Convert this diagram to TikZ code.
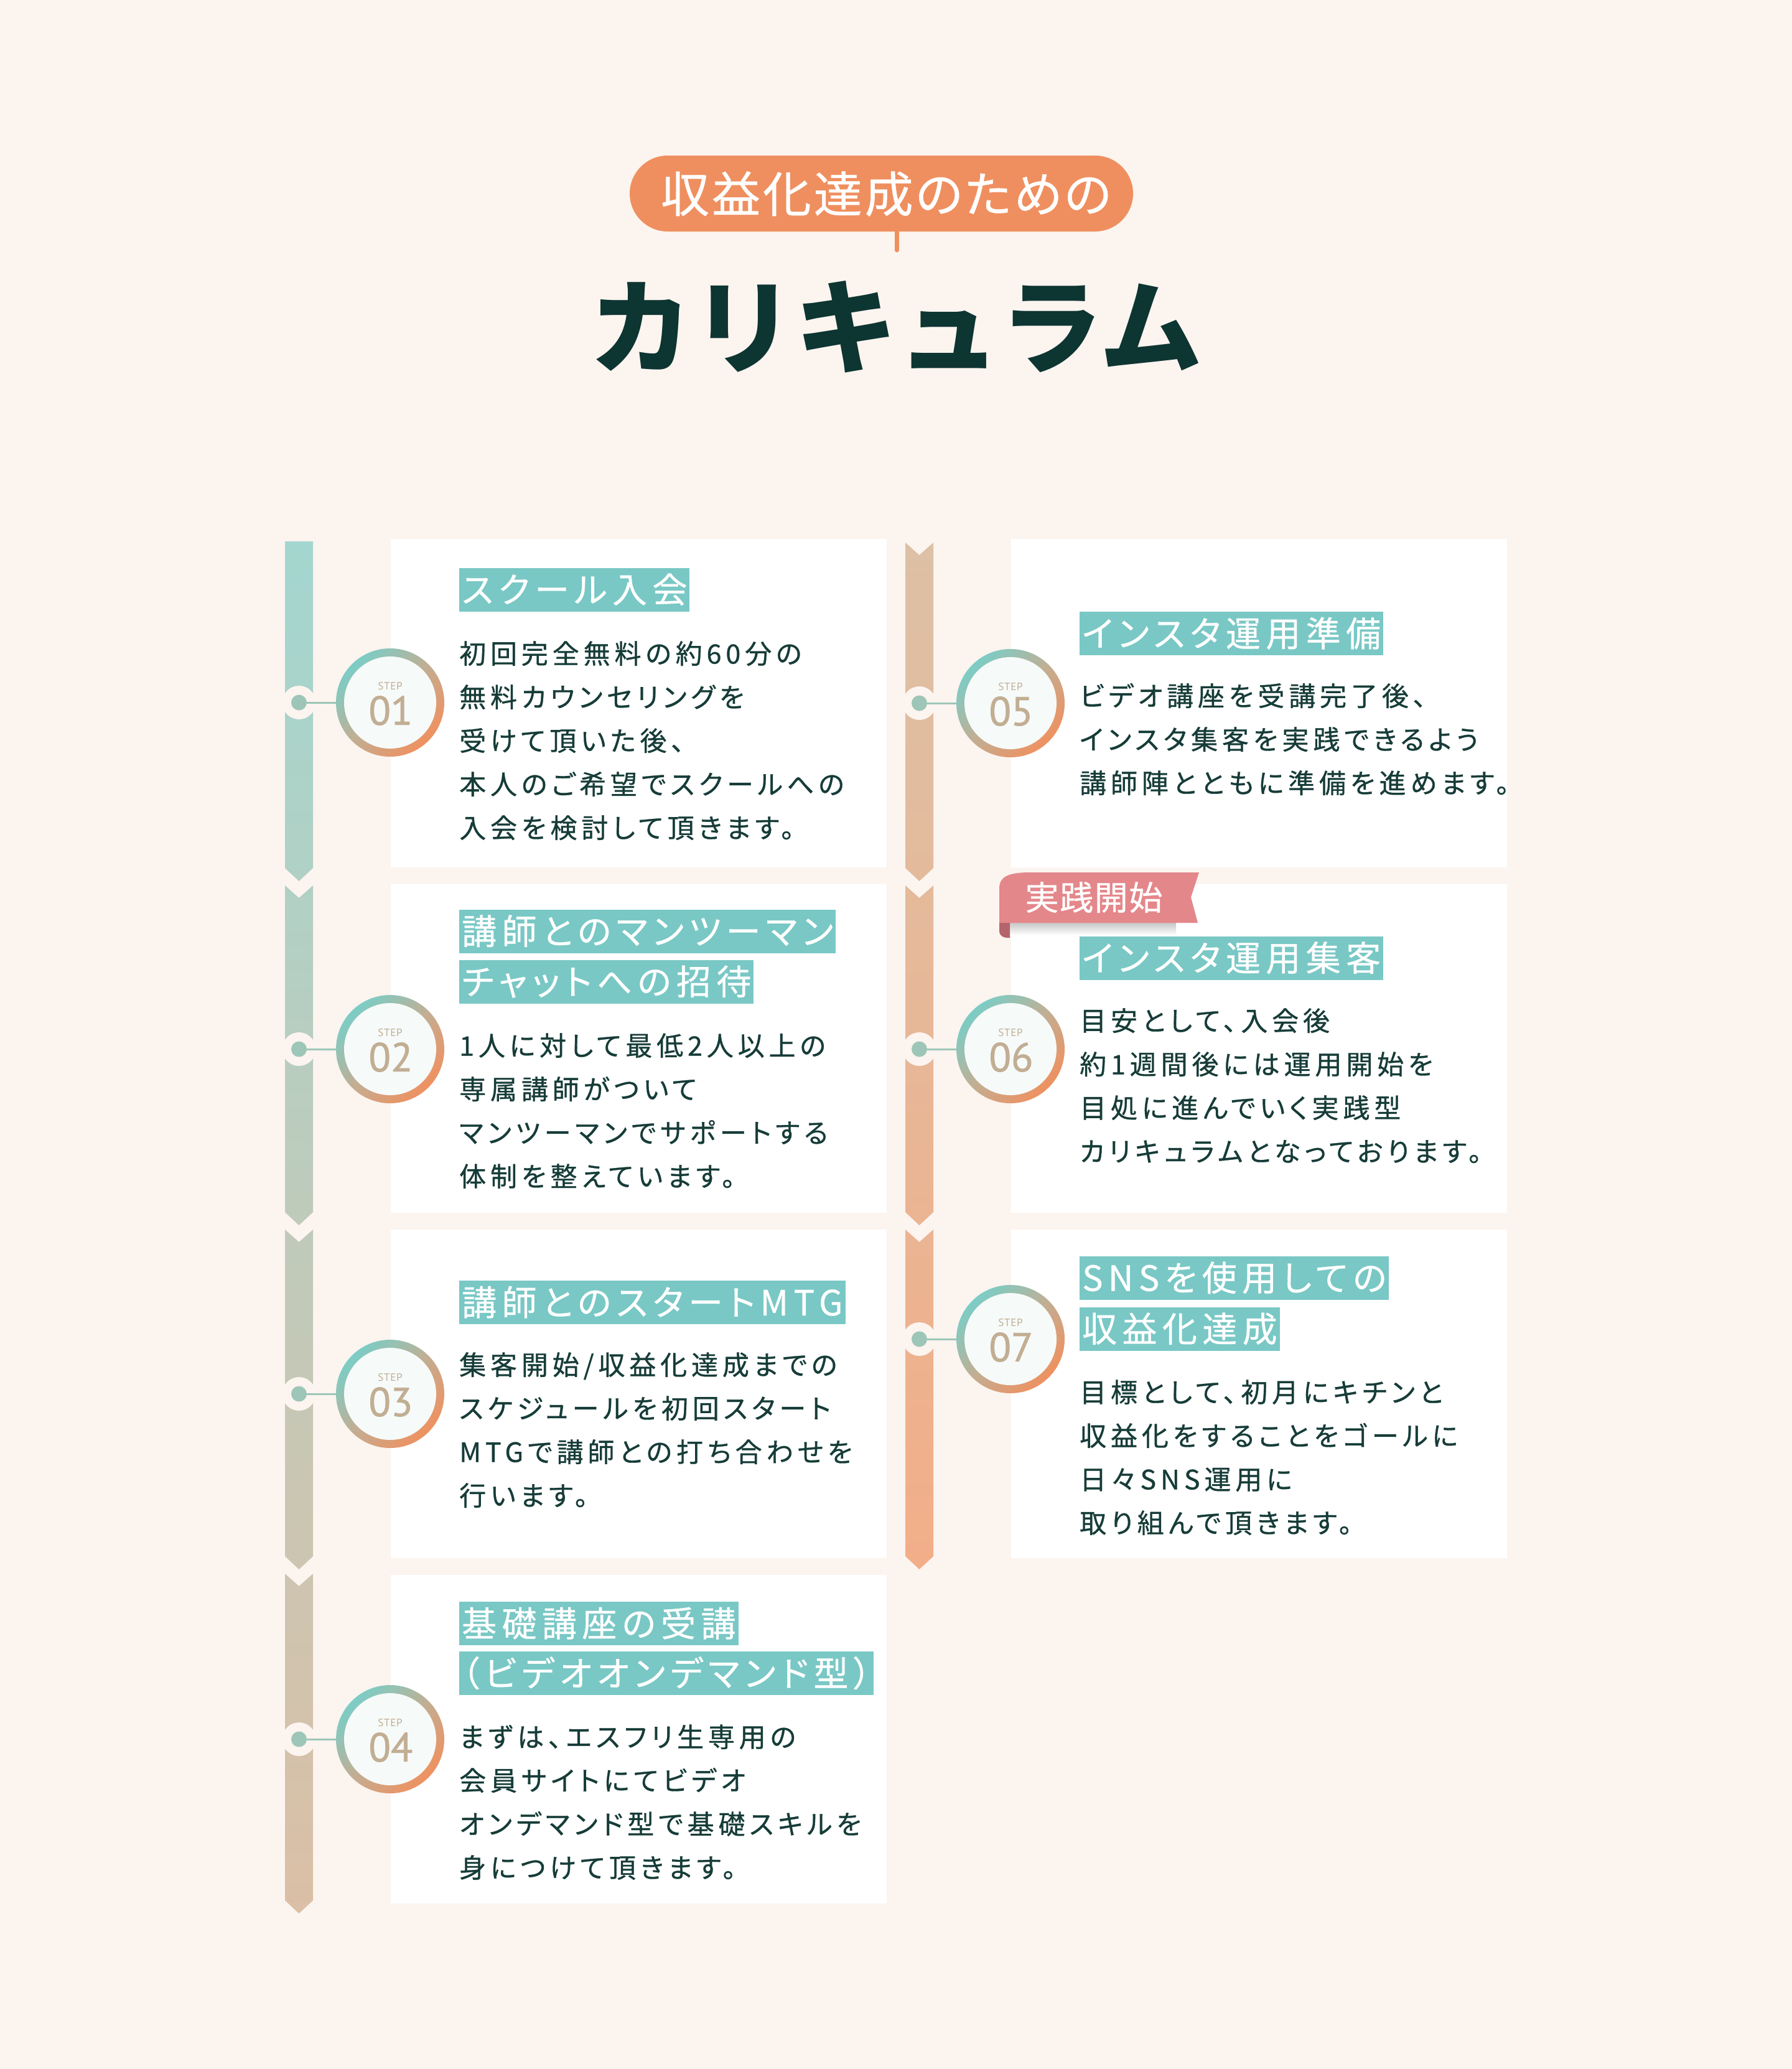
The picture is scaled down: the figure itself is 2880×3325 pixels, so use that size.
\documentclass[tikz,border=0pt]{standalone}
\usepackage{fontspec}
\usetikzlibrary{fadings,calc}
\newfontfamily\jpbody[RawFeature=+palt,LetterSpace=16,FakeBold=0.7]{Noto Sans CJK JP}
\newfontfamily\jphead[RawFeature=+palt,LetterSpace=15,FakeBold=0.6]{Noto Sans CJK JP}
\newfontfamily\jppill[RawFeature=+palt,LetterSpace=5,FakeBold=0.6]{Noto Sans CJK JP}
\newfontfamily\jptitle{Noto Sans CJK JP}
\newfontfamily\jprib[LetterSpace=3,FakeBold=0.5]{Noto Sans CJK JP}
\newfontfamily\numfam[FakeBold=1.2]{PT Sans}
\newfontfamily\stepfam[LetterSpace=4]{PT Sans}
\newcommand\bodyfont{\jpbody\fontsize{43}{50}\selectfont}
\newcommand\headfont{\jphead\fontsize{56}{60}\selectfont}
\newcommand\pillfont{\jppill\fontsize{78}{80}\selectfont}
\newcommand\titlefont{\jptitle\bfseries\fontsize{165}{170}\selectfont}
\newcommand\ribfont{\jprib\fontsize{54}{56}\selectfont}
\newcommand\numfont{\numfam\fontsize{65}{65}\selectfont}
\newcommand\stepfont{\stepfam\fontsize{17}{17}\selectfont}
\definecolor{bg}{HTML}{FCF4EF}
\definecolor{headc}{HTML}{79C8C5}
\definecolor{bodyc}{HTML}{163C38}
\definecolor{titlec}{HTML}{0D3532}
\definecolor{pillc}{HTML}{EF8F5F}
\definecolor{dotc}{HTML}{9DC6B8}
\definecolor{ringt}{HTML}{7BCDC6}
\definecolor{ringm}{HTML}{C2AE93}
\definecolor{ringb}{HTML}{EF9160}
\definecolor{innerc}{HTML}{F6FAF9}
\definecolor{lbartop}{HTML}{A3D6CF}
\definecolor{lbarbot}{HTML}{DBBFA6}
\definecolor{rbartop}{HTML}{DDC0A5}
\definecolor{rbarbot}{HTML}{F2AE89}
\definecolor{ribc}{HTML}{E4878B}
\definecolor{ribd}{HTML}{B4656B}
\newcommand\mkfade[2]{\pgfdeclarefading{#1}{\pgfpicture
  \pgfpathrectangle{\pgfpoint{-60pt}{-45pt}}{\pgfpoint{120pt}{90pt}}\pgfsetfillcolor{black}\pgfusepath{fill}
  \pgftext{\color{white}#2}\endpgfpicture}}
\mkfade{fstep}{\stepfont STEP}
\mkfade{fn01}{\numfont 01}
\mkfade{fn02}{\numfont 02}
\mkfade{fn03}{\numfont 03}
\mkfade{fn04}{\numfont 04}
\mkfade{fn05}{\numfont 05}
\mkfade{fn06}{\numfont 06}
\mkfade{fn07}{\numfont 07}
\newcommand\bodylines[4]{\foreach \t [count=\i] in {#4} {\node[bd] (#1-\i) at (#2,{#3+70*(\i-1)}) {\t};}}
\newcommand\stepc[4]{%
  \fill[bg] (#4,#3) circle[radius=27pt];
  \node[dotnode] (d#1) at (#4,#3) {};
  \node[ringnode] (s#1) at (#2,#3) {};
  \draw[conn] (d#1) -- (s#1);
  \shade[top color=ringt, bottom color=ringb, middle color=ringm, shading angle=45] (s#1.center) circle[radius=87pt];
  \fill[innerc] (s#1.center) circle[radius=74pt];
  \node[steplbl] (st#1) at ($(s#1.center)+(0,-26)$) {STEP};
  \shade[path fading=fstep, fit fading=false, left color=ringt, right color=ringb] ($(st#1.center)+(-24,-10)$) rectangle ($(st#1.center)+(24,10)$);
  \node[numlbl] (n#1) at ($(s#1.center)+(1,13)$) {#1};
  \shade[path fading=fn#1, fit fading=false, top color=ringt, bottom color=ringb, middle color=ringm, shading angle=45] ($(n#1.center)+(-36,-27)$) rectangle ($(n#1.center)+(36,27)$);
}
\begin{document}
\begin{tikzpicture}[x=1pt,y=-1pt,
  hd/.style={fill=headc,text=white,font=\headfont,anchor=west,inner xsep=4pt,inner ysep=7pt,text height=49pt,text depth=7pt},
  bd/.style={text=bodyc,font=\bodyfont,anchor=west,inner sep=0pt,text height=38pt,text depth=5pt},
  dotnode/.style={circle,fill=dotc,minimum size=25pt,inner sep=0pt},
  ringnode/.style={circle,minimum size=174pt,inner sep=0pt},
  conn/.style={draw=dotc,line width=3pt},
  steplbl/.style={font=\stepfont,text=ringm,inner sep=0pt},
  numlbl/.style={font=\numfont,text=ringm,inner sep=0pt},
  ttl/.style={font=\titlefont,inner sep=0pt,text height=145pt,text depth=20pt},
  card/.style={fill=white}]
\useasboundingbox (0,0) rectangle (2880,3325);
\fill[bg] (0,0) rectangle (2880,3325);
% title
\node[fill=pillc,rounded corners=61pt,minimum width=809pt,minimum height=122pt,inner sep=0pt] (pill) at (1416.5,311) {};
\coordinate (stemtop) at (1441,368);
\coordinate (stembot) at (1441,402);
\draw[pillc,line width=7pt,line cap=round] (stemtop) -- (stembot);
\node[font=\pillfont,text=white,inner sep=0pt,text height=69pt,text depth=9pt] (pilltext) at (1424,311) {収益化達成のための};
\node[ttl,text=titlec] (title) at (1440,525) {カリキュラム};
% cards
\foreach \k in {0,1,2,3} {\fill[card] (628,{866+555*\k}) rectangle (1425,{866+555*\k+528});}
\foreach \k in {0,1,2} {\fill[card] (1625,{866+555*\k}) rectangle (2422,{866+555*\k+528});}
% bars
\shade[top color=lbartop,bottom color=lbarbot]
  (458,870) -- (503,870) -- (503,1395) -- (480.5,1416) -- (458,1395) -- cycle
  (458,1423) -- (480.5,1443) -- (503,1423) -- (503,1948) -- (480.5,1969) -- (458,1948) -- cycle
  (458,1976) -- (480.5,1996) -- (503,1976) -- (503,2501) -- (480.5,2522) -- (458,2501) -- cycle
  (458,2529) -- (480.5,2549) -- (503,2529) -- (503,3054) -- (480.5,3075) -- (458,3054) -- cycle;
\shade[top color=rbartop,bottom color=rbarbot]
  (1455,872) -- (1477.5,892) -- (1500,872) -- (1500,1395) -- (1477.5,1416) -- (1455,1395) -- cycle
  (1455,1423) -- (1477.5,1443) -- (1500,1423) -- (1500,1948) -- (1477.5,1969) -- (1455,1948) -- cycle
  (1455,1976) -- (1477.5,1996) -- (1500,1976) -- (1500,2501) -- (1477.5,2522) -- (1455,2501) -- cycle;
% step circles
\stepc{01}{627}{1129}{480.5}
\stepc{02}{627}{1686}{480.5}
\stepc{03}{627}{2240}{480.5}
\stepc{04}{627}{2795}{480.5}
\stepc{05}{1624}{1130}{1477.5}
\stepc{06}{1624}{1686}{1477.5}
\stepc{07}{1624}{2152}{1477.5}
% card 1
\node[hd] (h1) at (738,947.5) {スクール入会};
\bodylines{b1}{738}{1050}{初回完全無料の約60分の,無料カウンセリングを,受けて頂いた後、,本人のご希望でスクールへの,入会を検討して頂きます。}
% card 2
\node[hd] (h2a) at (738,1496.5) {講師とのマンツーマン};
\node[hd] (h2b) at (738,1577.5) {チャットへの招待};
\bodylines{b2}{738}{1680}{1人に対して最低2人以上の,専属講師がついて,マンツーマンでサポートする,体制を整えています。}
% card 3
\node[hd] (h3) at (738,2093) {講師とのスタートMTG};
\bodylines{b3}{738}{2193}{集客開始/収益化達成までの,スケジュールを初回スタート,MTGで講師との打ち合わせを,行います。}
% card 4
\node[hd] (h4a) at (738,2609) {基礎講座の受講};
\node[hd] (h4b) at (738,2689) {（ビデオオンデマンド型）};
\bodylines{b4}{738}{2791}{まずは、エスフリ生専用の,会員サイトにてビデオ,オンデマンド型で基礎スキルを,身につけて頂きます。}
% card 5
\node[hd] (h5) at (1735,1018) {インスタ運用準備};
\bodylines{b5}{1735}{1118}{ビデオ講座を受講完了後、,インスタ集客を実践できるよう,講師陣とともに準備を進めます。}
% card 6
\node[hd] (h6) at (1735,1539.5) {インスタ運用集客};
\bodylines{b6}{1735}{1640}{目安として、入会後,約1週間後には運用開始を,目処に進んでいく実践型,カリキュラムとなっております。}
% card 7
\node[hd] (h7a) at (1735,2053.5) {SNSを使用しての};
\node[hd] (h7b) at (1735,2135.5) {収益化達成};
\bodylines{b7}{1735}{2237}{目標として、初月にキチンと,収益化をすることをゴールに,日々SNS運用に,取り組んで頂きます。}
% ribbon
\shade[top color=black!22,bottom color=white] (1623,1483) rectangle (1890,1503);
\fill[ribd] (1606,1468) -- (1606,1497) .. controls (1606,1503) and (1612,1508) .. (1623,1507) -- (1623,1483) -- cycle;
\fill[ribc] (1606,1483) -- (1606,1428) .. controls (1606,1410) and (1618,1403) .. (1650,1402) -- (1927,1402) -- (1914,1442) -- (1925,1483) -- cycle;
\node[font=\ribfont,text=white,inner sep=0pt,text height=47.5pt,text depth=6.5pt] (rib) at (1758,1442) {実践開始};
\end{tikzpicture}
\end{document}
